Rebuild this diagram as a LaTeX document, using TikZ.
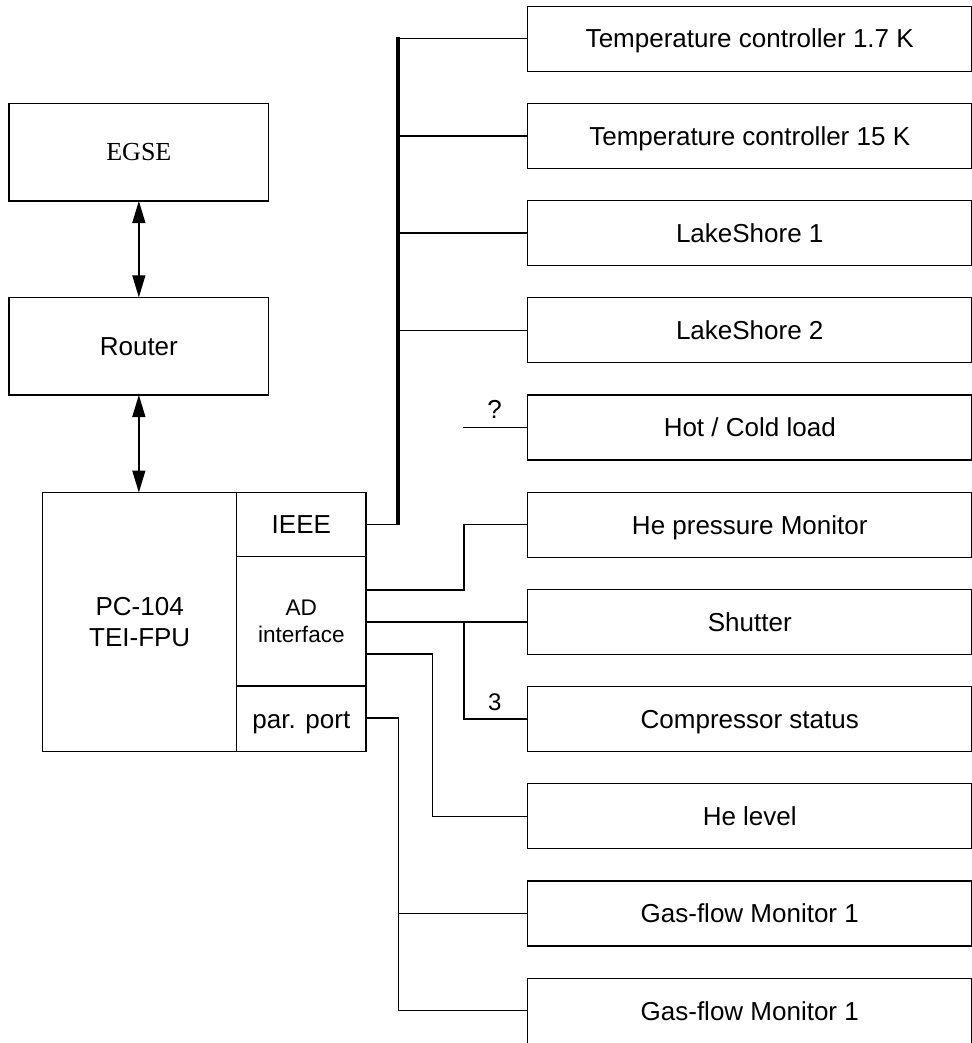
\documentclass[tikz,border=0pt]{standalone}
\usepackage{fontspec}
\setmainfont{Liberation Serif}
\newfontfamily\arial{Liberation Sans}
\usetikzlibrary{arrows.meta,calc}
\begin{document}
\begin{tikzpicture}[x=1pt,y=-1pt,
  line width=1.3pt,
  every node/.style={inner sep=0pt,outer sep=0pt},
  rbox/.style={draw,line width=1.3pt,minimum width=444.5pt,minimum height=65pt,text height=18.6pt,text depth=0pt,font=\arial\fontsize{26}{30}\selectfont},
  lbox/.style={draw,line width=1.3pt,font=\arial\fontsize{26}{30.7}\selectfont,align=center},
  onel/.style={text height=18.6pt,text depth=0pt},
  wire/.style={line width=1.3pt},
  bus/.style={line width=4pt},
  dbl/.style={line width=1.3pt,{Triangle[length=22pt,width=13pt]}-{Triangle[length=22pt,width=13pt]}},
  lbl/.style={font=\arial\fontsize{26}{30}\selectfont,anchor=base}
]
\useasboundingbox (0,0) rectangle (971,1043);

% right-hand boxes
\node[rbox] (tc1) at (749.75,38.7) {Temperature controller 1.7 K};
\node[rbox] (tc2) at (749.75,135.9) {Temperature controller 15 K};
\node[rbox] (ls1) at (749.75,233.1) {LakeShore 1};
\node[rbox] (ls2) at (749.75,330.3) {LakeShore 2};
\node[rbox] (hot) at (749.75,427.5) {Hot / Cold load};
\node[rbox] (hpm) at (749.75,524.7) {He pressure Monitor};
\node[rbox] (sh)  at (749.75,621.9) {Shutter};
\node[rbox] (cs)  at (749.75,719.1) {Compressor status};
\node[rbox] (hl)  at (749.75,816.3) {He level};
\node[rbox] (gf1) at (749.75,913.5) {Gas-flow Monitor 1};
\node[rbox] (gf2) at (749.75,1010.7) {Gas-flow Monitor 1};

% left-hand boxes
\node[draw,line width=1.3pt,minimum width=259.7pt,minimum height=97.7pt,text height=17.4pt,text depth=0pt,font=\fontsize{26}{30}\selectfont] (egse) at (138.85,152.15) {EGSE};
\node[lbox,onel,minimum width=259.7pt,minimum height=97.7pt] (router) at (138.85,346.15) {Router};
\node[lbox,minimum width=194pt,minimum height=259.2pt] (pc) at (139.7,622.1) {PC-104\\TEI-FPU};
\node[lbox,onel,minimum width=129.3pt,minimum height=64.2pt] (ieee) at (301.35,524.6) {IEEE};
\node[lbox,minimum width=129.3pt,minimum height=129.3pt,font=\arial\fontsize{22.6}{27.7}\selectfont] (ad) at (301.35,621.35) {AD\\interface};
\node[lbox,onel,minimum width=129.3pt,minimum height=65.7pt] (par) at (301.35,718.85) {par. port};

% arrows
\draw[dbl] (egse.south) -- (router.north);
\draw[dbl] (router.south) -- (router.south |- pc.north);

% IEEE bus
\coordinate (bustop) at (398.3,37.5);
\coordinate (busbot) at (398.3,524.6);
\draw[bus] (bustop) -- (busbot);
\draw[wire] (ieee.east) -- (busbot);
\draw[wire] (bustop |- tc1.west) -- (tc1.west);
\draw[wire] (bustop |- tc2.west) -- (tc2.west);
\draw[wire] (bustop |- ls1.west) -- (ls1.west);
\draw[wire] (bustop |- ls2.west) -- (ls2.west);

% hot/cold load
\coordinate (q) at (463.3,427.5);
\draw[wire] (q) -- (hot.west);
\node[lbl] (qlbl) at (494.5,418.3) {?};

% AD interface connections
\coordinate (a1) at (366,590);
\coordinate (k1) at (464,590);
\draw[wire] (a1) -- (k1) -- (k1 |- hpm.west) -- (hpm.west);
\draw[wire] (ad.east |- sh.west) -- (sh.west);
\coordinate (k2) at (464,621.9);
\draw[wire] (k2) -- (k2 |- cs.west) -- (cs.west);
\node[lbl,font=\arial\fontsize{24}{28}\selectfont] (three) at (494.7,710) {3};
\coordinate (a3) at (366,654);
\coordinate (k3) at (432.3,654);
\draw[wire] (a3) -- (k3) -- (k3 |- hl.west) -- (hl.west);

% parallel port
\coordinate (k4) at (398.3,718);
\draw[wire] (par.east |- k4) -- (k4) -- (k4 |- gf2.west) -- (gf2.west);
\draw[wire] (k4 |- gf1.west) -- (gf1.west);
\end{tikzpicture}
\end{document}
